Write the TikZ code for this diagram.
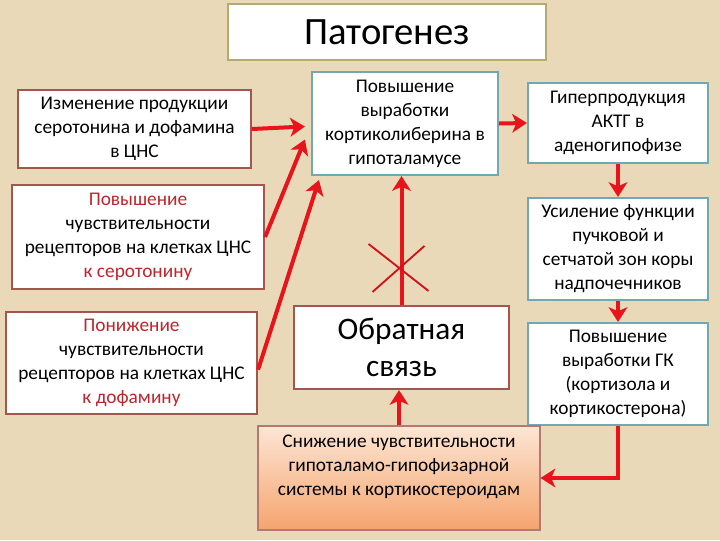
\documentclass[tikz,border=0pt]{standalone}
\usepackage{fontspec}
\setmainfont{Carlito}
\usepackage{xcolor}
\usepackage{tikz}
\usetikzlibrary{arrows.meta,calc}
\definecolor{fonPergament}{HTML}{EAD9B8}
\definecolor{ramkaBordo}{HTML}{A4564E}
\definecolor{ramkaBiryuza}{HTML}{6FA9B6}
\definecolor{ramkaOliva}{HTML}{B3AC6E}
\definecolor{strelkaKrasn}{HTML}{E8141B}
\definecolor{tekstKrasn}{HTML}{C0242C}
\definecolor{persikSvet}{HTML}{FCE6D4}
\definecolor{persikTemn}{HTML}{F5A46E}
\newcommand{\pxu}{0.75pt}

\begin{document}
\begin{tikzpicture}[x=0.75pt,y=-0.75pt,
  box/.style={draw,fill=white,line width=1.6pt,align=center,inner sep=2pt,
    font=\fontsize{14.5}{18}\selectfont},
  bordo/.style={box,draw=ramkaBordo},
  biryuza/.style={box,draw=ramkaBiryuza},
  strelka/.style={draw=strelkaKrasn,line width=3pt,-{Stealth[length=11pt,width=14pt,inset=3pt]}},
  krest/.style={draw=strelkaKrasn!90!black,line width=1.4pt}]
\fill[fonPergament] (0,0) rectangle (720,540);
\node[box,draw=ramkaOliva,minimum width=318*\pxu,minimum height=56*\pxu,
  font=\fontsize{29}{34}\selectfont] (titul) at (387,32) {Патогенез};
\node[bordo,minimum width=233*\pxu,minimum height=78*\pxu] (izm) at (134.5,129)
  {Изменение продукции\\серотонина и дофамина\\в ЦНС};
\node[biryuza,minimum width=186*\pxu,minimum height=103*\pxu] (kortlib) at (405,123.5)
  {Повышение\\выработки\\кортиколиберина в\\гипоталамусе};
\node[biryuza,minimum width=180*\pxu,minimum height=80*\pxu] (aktg) at (618,123)
  {Гиперпродукция\\АКТГ в\\аденогипофизе};
\node[bordo,minimum width=252*\pxu,minimum height=104*\pxu] (sero) at (138,237)
  {\textcolor{tekstKrasn}{Повышение}\\чувствительности\\рецепторов на клетках ЦНС\\\textcolor{tekstKrasn}{к серотонину}};
\node[biryuza,minimum width=180*\pxu,minimum height=102*\pxu] (nadp) at (618,249)
  {Усиление функции\\пучковой и\\сетчатой зон коры\\надпочечников};
\node[bordo,minimum width=251*\pxu,minimum height=102*\pxu] (dofa) at (131.5,363)
  {\textcolor{tekstKrasn}{Понижение}\\чувствительности\\рецепторов на клетках ЦНС\\\textcolor{tekstKrasn}{к дофамину}};
\node[bordo,minimum width=215*\pxu,minimum height=83*\pxu,
  font=\fontsize{23.5}{28}\selectfont] (svyaz) at (401.5,347.5) {Обратная\\связь};
\node[biryuza,minimum width=180*\pxu,minimum height=102*\pxu] (gk) at (618,374)
  {Повышение\\выработки ГК\\(кортизола и\\кортикостерона)};
\node[draw=ramkaBordo!80,line width=0.8pt,top color=persikSvet,bottom color=persikTemn,
  minimum width=282*\pxu,minimum height=104*\pxu] (sniz) at (399,478) {};
\node[align=center,font=\fontsize{14.5}{18}\selectfont] (snizTekst) at (399,467)
  {Снижение чувствительности\\гипоталамо-гипофизарной\\системы к кортикостероидам};
\draw[strelka] (izm.east) -- ([shift={(-6,3)}]kortlib.west);
\draw[strelka] (sero.east) -- ([shift={(-6,16)}]kortlib.west);
\draw[strelka] ([yshift=-5]dofa.east) -- ([shift={(8,4)}]kortlib.south west);
\draw[strelka] (kortlib.east) -- (aktg.west);
\draw[strelka] (aktg.south) -- (nadp.north);
\draw[strelka] (nadp.south) -- (gk.north);
\draw[strelka] (svyaz.north) -- (svyaz.north |- kortlib.south);
\draw[strelka] (sniz.north) -- (sniz.north |- svyaz.south);
\draw[strelka] (gk.south) |- (sniz.east);
\coordinate (krest) at ($(svyaz.north)+(-2,-37)$);
\draw[krest] ($(krest)+(-31,-24)$) -- ($(krest)+(29,23)$);
\draw[krest] ($(krest)+(25,-22)$) -- ($(krest)+(-27,24)$);
\end{tikzpicture}
\end{document}
